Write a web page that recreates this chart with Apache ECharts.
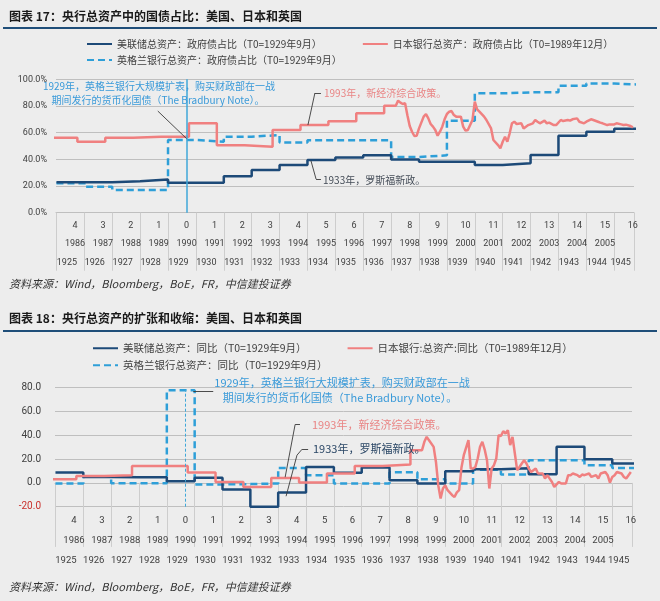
<!DOCTYPE html>
<html><head><meta charset="utf-8">
<script src="https://cdn.jsdelivr.net/npm/echarts@6/dist/echarts.min.js"></script>
<style>html,body{margin:0;padding:0;background:#ededed;}#c{width:660px;height:601px;}</style>
</head><body><div id="c"></div>
<script>
// x unit: months relative to T0 (US/UK: 1929-09, Japan: 1989-12)
const T0_LABELS = [-4,-3,-2,-1,0,1,2,3,4,5,6,7,8,9,10,11,12,13,14,15,16];
const JP_YEAR_LABELS = [1986,1987,1988,1989,1990,1991,1992,1993,1994,1995,1996,1997,1998,1999,2000,2001,2002,2003,2004,2005];
const US_YEAR_LABELS = [1925,1926,1927,1928,1929,1930,1931,1932,1933,1934,1935,1936,1937,1938,1939,1940,1941,1942,1943,1944,1945];

// annual series (US & UK), one value per calendar year 1925..1945
const usYears = [1925,1926,1927,1928,1929,1930,1931,1932,1933,1934,1935,1936,1937,1938,1939,1940,1941,1942,1943,1944,1945];
const usShare = [22.8,22.8,23.5,24.8,22.5,22.5,27.3,32.0,35.8,39.5,41.3,43.0,39.8,38.2,38.2,35.8,37.0,43.2,57.7,60.7,63.0];
const ukShare = [22.0,19.5,17.0,17.0,54.5,53.2,57.0,58.2,52.7,54.3,54.3,54.3,41.8,43.0,69.0,89.5,90.2,90.2,95.2,96.8,96.0];
const usYoy = [8.7,5.0,4.8,4.8,1.4,4.4,-5.6,-20.0,-8.1,13.3,8.5,13.0,2.3,-0.5,9.8,11.5,12.3,7.3,30.3,19.9,16.3];
const ukYoy = [-0.5,5.5,-0.2,-0.2,77.9,-1.3,-1.0,-0.5,12.6,6.5,-0.5,-0.5,9.0,3.1,-0.5,11.0,7.0,19.1,19.1,14.9,12.6];

// Japan: annual part, then monthly part (month offsets from 1989-12)
const jpShareYears = [1985,1986,1987,1988,1989,1990,1991,1992,1993,1994,1995,1996,1997];
const jpShareAnnual = [56.2,53.2,56.2,57.0,57.0,67.0,50.5,49.5,62.0,65.7,68.5,74.5,80.2];
const jpShareMonths = [90,91,92,93,94,95,96,97,98,99,100,102,103,104,105,106,107,108,109,110,111,112,113,114,115,116,118,119,120,121,123,124,125,126,128,129,131,132,134,135,136,137,138,139,140,141,142,144,145,146,147,149,150,151,152,154,155,156,158,159,161,162,164,165,166,168,169,171,172,174,175,177,178,179,181,182,184,185,187,188,189,191,192];
const jpShareMonthly = [80.2,84.0,82.5,81.5,82.0,73.0,65.0,60.7,57.5,57.7,63.2,72.0,74.0,70.7,66.5,64.5,62.0,57.7,60.7,64.5,70.0,74.0,75.7,76.2,73.2,72.0,72.0,64.5,61.5,62.0,69.5,83.2,77.5,75.7,72.0,69.5,63.2,54.5,50.7,48.2,53.2,57.0,53.2,59.5,67.0,68.2,66.5,67.0,63.2,64.5,65.7,67.0,69.5,68.2,67.0,69.0,67.0,67.5,65.7,65.7,69.5,68.7,69.5,69.0,70.0,70.7,68.2,67.0,68.2,70.0,69.5,68.2,67.5,67.0,65.7,66.2,66.2,67.0,66.2,65.7,66.0,65.0,64.0];

const jpYoyYears = [1985,1986,1987,1988,1989,1990,1991,1992,1993,1994,1995,1996,1997,1998];
const jpYoyAnnual = [3.1,5.9,6.5,14.3,14.3,8.7,0.8,-3.4,4.2,0.3,7.9,14.3,15.4,27.5];
const jpYoyMonths = [102,103,104,105,107,108,109,110,111,112,113,115,116,117,118,119,120,122,123,124,125,126,127,128,129,130,131,132,133,134,135,136,137,138,139,140,141,142,143,144,145,146,147,148,149,151,152,154,155,156,158,159,161,162,164,165,166,167,169,170,171,172,174,175,177,178,179,181,182,183,184,185,186,188,189,190,191,192];
const jpYoyMonthly = [27.5,34.5,38.7,35.9,30.3,17.6,-1.9,-13.1,-4.7,-1.9,-6.1,-10.3,-11.8,-8.0,-6.1,13.0,23.3,35.9,12.0,12.1,13.4,20.5,30.3,34.5,28.0,19.1,-4.7,12.1,14.9,20.5,40.1,39.4,43.4,41.5,44.3,31.7,38.7,24.7,10.7,13.4,16.3,19.1,16.3,12.1,9.2,12.1,7.9,7.9,3.7,6.5,0.8,-3.4,0.8,-0.5,-0.5,6.5,6.5,7.9,6.5,5.0,7.0,6.5,7.9,5.0,6.5,3.7,7.9,9.2,6.5,0.3,5.0,6.5,9.2,7.9,5.0,3.7,6.5,9.2];

const N = {
  us1:'美联储总资产：政府债占比（T0=1929年9月）',
  jp1:'日本银行总资产：政府债占比（T0=1989年12月）',
  uk1:'英格兰银行总资产：政府债占比（T0=1929年9月）',
  us2:'美联储总资产：同比（T0=1929年9月）',
  jp2:'日本银行:总资产:同比（T0=1989年12月）',
  uk2:'英格兰银行总资产：同比（T0=1929年9月）'
};

const NAVY='#1d4a78', SALMON='#f08080', CYAN='#2e9fd8', GRID='#bfbfbf', LBL='#404040';
const NUM="Roboto, 'Noto Sans', sans-serif";
const CJK="'Noto Sans CJK SC', sans-serif";
const AX_MIN=-56.2, AX_MAX=192.5;

function usStart(y){return (y-1929)*12-8;}
function jpStart(y){return (y-1990)*12+1;}
function stepPoints(starts, vals, lastEnd){
  const p=[];
  for(let i=0;i<vals.length;i++){
    const e = i+1<starts.length ? starts[i+1] : lastEnd;
    p.push([starts[i], vals[i]]); p.push([e, vals[i]]);
  }
  return p;
}
function pairs(xs, ys){return xs.map((x,i)=>[x, ys[i]]);}

const usStarts = usYears.map(usStart);
const usEnd = usStart(1946);
const usSharePts = stepPoints(usStarts, usShare, usEnd);
const ukSharePts = stepPoints(usStarts, ukShare, usEnd);
const usYoyPts = stepPoints(usStarts, usYoy, usEnd);
const ukYoyPts = stepPoints(usStarts, ukYoy, usEnd);
const jpSharePts = stepPoints(jpShareYears.map(jpStart), jpShareAnnual, jpShareMonths[0]).concat(pairs(jpShareMonths, jpShareMonthly));
const jpYoyPts = stepPoints(jpYoyYears.map(jpStart), jpYoyAnnual, jpYoyMonths[0]).concat(pairs(jpYoyMonths, jpYoyMonthly));

const sepValues = US_YEAR_LABELS.map(usStart).concat([AX_MAX]);
function usLabelPos(y){
  const lo=Math.max(usStart(y),AX_MIN), hi=Math.min(usStart(y)+12,AX_MAX);
  return (lo+hi)/2-1.5;
}
const usLabelVals = US_YEAR_LABELS.map(usLabelPos);

function xAxesFor(g, m1, m2, m3, tickLen, fs){
  const base = {gridIndex:g, type:'value', position:'bottom', offset:0, min:AX_MIN, max:AX_MAX, splitLine:{show:false}};
  const lab = {fontSize:fs, color:LBL, fontFamily:NUM};
  return [
    Object.assign({}, base, {
      axisLine:{show:true, lineStyle:{color:GRID, width:1}},
      axisTick:{show:true, customValues:sepValues, length:tickLen, lineStyle:{color:'#cdcdcd', width:1}},
      axisLabel:Object.assign({}, lab, {customValues:T0_LABELS.map(k=>k*12), margin:m1,
        formatter:v=>String(Math.abs(Math.round(v/12)))})
    }),
    Object.assign({}, base, {
      axisLine:{show:false}, axisTick:{show:false},
      axisLabel:Object.assign({}, lab, {customValues:JP_YEAR_LABELS.map(y=>(y-1990)*12), margin:m2,
        formatter:v=>String(1990+Math.round(v/12))})
    }),
    Object.assign({}, base, {
      axisLine:{show:false}, axisTick:{show:false},
      axisLabel:Object.assign({}, lab, {customValues:usLabelVals, margin:m3,
        formatter:v=>{let b=0;for(let i=0;i<usLabelVals.length;i++){if(Math.abs(usLabelVals[i]-v)<Math.abs(usLabelVals[b]-v))b=i;}return String(US_YEAR_LABELS[b]);}})
    })
  ];
}

const leader = {color:'#3a3a3a', width:0.9, type:'solid'};
function seg(a,b){return [{coord:a, lineStyle:leader},{coord:b}];}

const legendBase = {padding:0, itemWidth:25, itemHeight:12, selectedMode:false, itemStyle:{opacity:0}};

const chart = echarts.init(document.getElementById('c'));
const option = {
  backgroundColor:'#ededed',
  animation:false,
  textStyle:{fontFamily:CJK},
  grid:[
    {left:56, right:26, top:79.3, height:133.4},
    {left:55, right:28, top:387.7, height:119}
  ],
  xAxis: xAxesFor(0, 9, 27, 46, 58, 9).concat(xAxesFor(1, 9, 29, 49, 64, 9.5)),
  yAxis:[
    {gridIndex:0, type:'value', min:0, max:100, interval:20,
     axisLine:{show:false}, axisTick:{show:false},
     splitLine:{lineStyle:{color:GRID, width:1}},
     axisLabel:{formatter:v=>v.toFixed(1)+'%', fontSize:9, margin:9, color:LBL, fontFamily:NUM}},
    {gridIndex:1, type:'value', min:-20, max:80, interval:20,
     axisLine:{show:false}, axisTick:{show:false},
     splitLine:{lineStyle:{color:GRID, width:1}},
     axisLabel:{formatter:v=>v.toFixed(1), fontSize:10, margin:14, fontFamily:NUM,
       color:v=>(v<0?'#c9302c':LBL)}}
  ],
  legend:[
    Object.assign({}, legendBase, {data:[N.us1,N.jp1], left:86, top:39, itemGap:40,
     textStyle:{fontSize:10, color:LBL, fontFamily:CJK}}),
    Object.assign({}, legendBase, {data:[N.uk1], left:86, top:55,
     textStyle:{fontSize:10, color:LBL, fontFamily:CJK}}),
    Object.assign({}, legendBase, {data:[N.us2,N.jp2], left:92, top:343, itemGap:40,
     textStyle:{fontSize:10.5, color:LBL, fontFamily:CJK}}),
    Object.assign({}, legendBase, {data:[N.uk2], left:92, top:360,
     textStyle:{fontSize:10.5, color:LBL, fontFamily:CJK}})
  ],
  series:[
    {name:N.uk1, type:'line', xAxisIndex:0, yAxisIndex:0, data:ukSharePts, symbol:'none',
     lineStyle:{color:CYAN, width:2.5, type:[7,4]}, itemStyle:{color:CYAN},
     markLine:{silent:true, symbol:['none','none'], label:{show:false}, animation:false,
       data:[
         [{xAxis:0, yAxis:0, lineStyle:{color:'#3fa7d8', width:1.5, type:'solid'}},{xAxis:0, yAxis:100}],
         seg([-12.4,76.2],[0,55.5]),
         seg([52.2,65.7],[55.2,89.7]), seg([55.2,89.7],[57.8,89.7]),
         seg([53.5,39.0],[55.7,25.2]), seg([55.7,25.2],[57.8,25.2])
       ]}},
    {name:N.us1, type:'line', xAxisIndex:0, yAxisIndex:0, data:usSharePts, symbol:'none',
     lineStyle:{color:NAVY, width:2.5}, itemStyle:{color:NAVY}},
    {name:N.jp1, type:'line', xAxisIndex:0, yAxisIndex:0, data:jpSharePts, symbol:'none',
     lineStyle:{color:SALMON, width:2.5}, itemStyle:{color:SALMON}},

    {name:N.uk2, type:'line', xAxisIndex:3, yAxisIndex:1, data:ukYoyPts, symbol:'none',
     lineStyle:{color:CYAN, width:2.5, type:[7,4]}, itemStyle:{color:CYAN},
     markLine:{silent:true, symbol:['none','none'], label:{show:false}, animation:false,
       data:[
         [{xAxis:0, yAxis:-20, lineStyle:{color:'#3fa7d8', width:1, type:[3,2]}},{xAxis:0, yAxis:78}],
         seg([3.4,77.3],[12.0,77.3]),
         seg([43.0,4.8],[47.3,49.1]), seg([47.3,49.1],[49.4,49.1]),
         seg([43.4,-11.2],[48.1,23.3]), seg([48.1,23.3],[50.3,28.3]), seg([50.3,28.3],[52.9,28.3])
       ]}},
    {name:N.us2, type:'line', xAxisIndex:3, yAxisIndex:1, data:usYoyPts, symbol:'none',
     lineStyle:{color:NAVY, width:2.5}, itemStyle:{color:NAVY}},
    {name:N.jp2, type:'line', xAxisIndex:3, yAxisIndex:1, data:jpYoyPts, symbol:'none',
     lineStyle:{color:SALMON, width:2.5}, itemStyle:{color:SALMON}}
  ],
  graphic:[
    {type:'text', x:9, y:16, style:{text:'图表 17：央行总资产中的国债占比：美国、日本和英国', font:'bold 12px "Noto Sans CJK SC"', fill:'#1a1a1a', textVerticalAlign:'middle', verticalAlign:'middle'}},
    {type:'rect', shape:{x:3, y:27, width:654, height:2}, style:{fill:'#1f4e79'}},
    {type:'text', x:9, y:318, style:{text:'图表 18：央行总资产的扩张和收缩：美国、日本和英国', font:'bold 12px "Noto Sans CJK SC"', fill:'#1a1a1a', textVerticalAlign:'middle', verticalAlign:'middle'}},
    {type:'rect', shape:{x:3, y:330, width:654, height:2}, style:{fill:'#1f4e79'}},
    {type:'text', x:9, y:284, style:{text:'资料来源：Wind，Bloomberg，BoE，FR，中信建投证券', font:'italic 11px "Noto Sans CJK SC"', fill:'#333', textVerticalAlign:'middle', verticalAlign:'middle'}},
    {type:'text', x:9, y:587, style:{text:'资料来源：Wind，Bloomberg，BoE，FR，中信建投证券', font:'italic 11px "Noto Sans CJK SC"', fill:'#333', textVerticalAlign:'middle', verticalAlign:'middle'}},

    {type:'text', x:159, y:86, z:10, style:{text:'1929年，英格兰银行大规模扩表，购买财政部在一战', font:'10px "Noto Sans CJK SC"', fill:'#3a9ad9', textAlign:'center', align:'center', textVerticalAlign:'middle', verticalAlign:'middle'}},
    {type:'text', x:158, y:100, z:10, style:{text:'期间发行的货币化国债（The Bradbury Note）。', font:'10px "Noto Sans CJK SC"', fill:'#3a9ad9', textAlign:'center', align:'center', textVerticalAlign:'middle', verticalAlign:'middle'}},
    {type:'text', x:324, y:93, z:10, style:{text:'1993年，新经济综合政策。', font:'10px "Noto Sans CJK SC"', fill:'#e98585', textVerticalAlign:'middle', verticalAlign:'middle'}},
    {type:'text', x:323, y:180, z:10, style:{text:'1933年，罗斯福新政。', font:'10px "Noto Sans CJK SC"', fill:'#444c57', textVerticalAlign:'middle', verticalAlign:'middle'}},

    {type:'text', x:342, y:383, z:10, style:{text:'1929年，英格兰银行大规模扩表，购买财政部在一战', font:'11px "Noto Sans CJK SC"', fill:'#3a9ad9', textAlign:'center', align:'center', textVerticalAlign:'middle', verticalAlign:'middle'}},
    {type:'text', x:340, y:398, z:10, style:{text:'期间发行的货币化国债（The Bradbury Note）。', font:'11px "Noto Sans CJK SC"', fill:'#3a9ad9', textAlign:'center', align:'center', textVerticalAlign:'middle', verticalAlign:'middle'}},
    {type:'text', x:312, y:424.5, z:10, style:{text:'1993年，新经济综合政策。', font:'11px "Noto Sans CJK SC"', fill:'#e98585', textVerticalAlign:'middle', verticalAlign:'middle'}},
    {type:'text', x:313, y:449, z:10, style:{text:'1933年，罗斯福新政。', font:'11px "Noto Sans CJK SC"', fill:'#2b4766', textVerticalAlign:'middle', verticalAlign:'middle'}}
  ]
};
chart.setOption(option);
</script>
</body></html>
